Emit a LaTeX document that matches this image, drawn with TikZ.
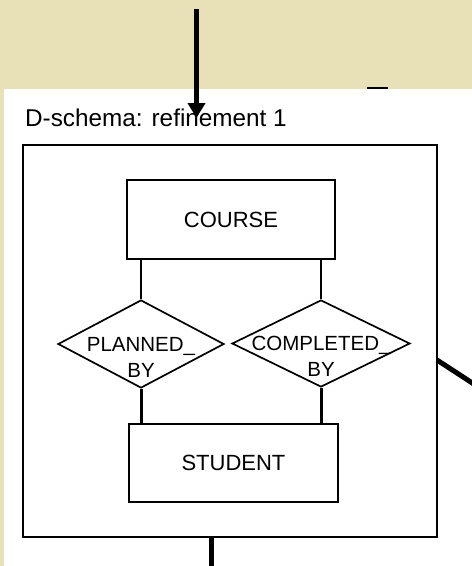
\documentclass[tikz,border=0pt]{standalone}
\usepackage{fontspec}
\setmainfont{Liberation Sans}
\usetikzlibrary{shapes.geometric,arrows.meta}
\definecolor{paper}{RGB}{232,224,182}
\tikzset{
  entity/.style={draw, line width=2.2pt, rectangle, inner sep=0pt, font=\fontsize{22}{26}\selectfont},
  relation/.style={draw, line width=1.7pt, diamond, inner sep=0pt},
  rellabel/.style={align=center, font=\fontsize{20.5}{26}\selectfont},
  frame/.style={draw, line width=2.2pt, rectangle, inner sep=0pt},
  thinlink/.style={line width=1.5pt},
  thicklink/.style={line width=3pt},
  heavy/.style={line width=5pt},
}
\begin{document}
\begin{tikzpicture}[x=1pt,y=-1pt]
  \useasboundingbox (0,0) rectangle (472,566);
  \clip (0,0) rectangle (472,566);
  % page background and the white sheet
  \fill[paper] (0,0) rectangle (472,566);
  \fill[white] (4,89) rectangle (472,566);
  \draw[line width=2.5pt] (367,88) -- (388,88);

  % title
  \node[anchor=base west, inner sep=0pt, font=\fontsize{24.3}{28}\selectfont] (title) at (25,126) {D-schema: refinement 1};

  % schema frame
  \node[frame, minimum width=414pt, minimum height=392pt] (schema) at (230,341) {};

  % entities
  \node[entity, minimum width=208pt, minimum height=79pt] (course) at (231,219.5) {COURSE};
  \node[entity, minimum width=209pt, minimum height=78pt] (student) at (233.5,463) {STUDENT};

  % relationships
  \node[relation, minimum width=166pt, minimum height=88pt] (planned) at (141,344) {};
  \node[rellabel] at ([yshift=-13pt]planned.center) {PLANNED\_\\BY};
  \node[relation, minimum width=178pt, minimum height=87pt] (completed) at (321,343.5) {};
  \node[rellabel] at ([yshift=-13pt]completed.center) {COMPLETED\_\\BY};

  % links between entities and relationships
  \draw[thinlink] (planned.north) -- (planned.north |- course.south);
  \draw[thinlink] (completed.north) -- (completed.north |- course.south);
  \draw[thicklink] (planned.south) -- (planned.south |- student.north);
  \draw[thicklink] (completed.south) -- (completed.south |- student.north);

  % flow arrows around the schema
  \coordinate (top) at (196.5,9);
  \coordinate (tip) at (196.5,118);
  \draw[heavy, -{Triangle[width=17pt,length=15pt]}] (top) -- (tip);
  \coordinate (down) at (211,570);
  \draw[heavy] (schema.south -| down) -- (down);
  \coordinate (rightout) at (480,388);
  \draw[heavy] (437,360) -- (rightout);
\end{tikzpicture}
\end{document}
